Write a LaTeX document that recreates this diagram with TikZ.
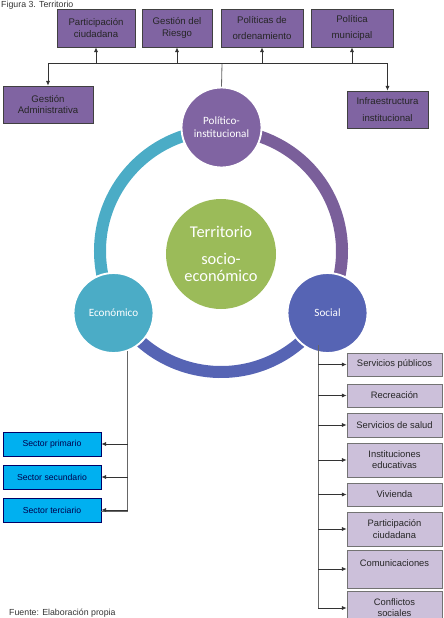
\documentclass[tikz,border=0pt]{standalone}
\usepackage{fontspec}
\setmainfont{Liberation Sans}
\newfontfamily\calibri{Carlito}
\usetikzlibrary{arrows.meta,shadows}
\definecolor{morado}{HTML}{8064A2}
\definecolor{turquesa}{HTML}{4BACC6}
\definecolor{azulsoc}{HTML}{5664B4}
\definecolor{verde}{HTML}{9BBB59}
\definecolor{cian}{HTML}{00B0F0}
\definecolor{lila}{HTML}{CCC0DA}
\tikzset{
  arr/.style={-{Latex[length=4pt,width=3.5pt]},draw=black!80,line width=0.7pt},
  lin/.style={draw=black!60,line width=0.7pt},
  topbox/.style={rectangle,draw=black!75,fill=morado,text=black!85,line width=0.6pt,
    align=center,inner sep=1pt,font=\fontsize{8.2}{9.6}\selectfont},
  secbox/.style={rectangle,draw=blue!40!black,fill=cian,text=blue!30!black,line width=0.6pt,
    align=center,inner sep=1pt,minimum width=2.94cm,minimum height=0.72cm,
    font=\fontsize{7.4}{9}\selectfont},
  socbox/.style={rectangle,draw=black!55,fill=lila,text=black!85,line width=0.6pt,
    align=center,inner sep=1pt,minimum width=2.85cm,
    drop shadow={shadow xshift=0.8pt,shadow yshift=-0.8pt,opacity=0.35},
    font=\fontsize{8}{9.6}\selectfont},
  dimension/.style={circle,draw=white,line width=1.6pt,minimum size=2.4cm,inner sep=0pt,
    text=white,align=center,font=\calibri\fontsize{9.5}{11}\selectfont},
  ring/.style={line width=0.36cm}
}
\begin{document}
\begin{tikzpicture}[x=0.03cm,y=-0.03cm]
  \useasboundingbox (0,0) rectangle (443,618);
  \clip (0,0) rectangle (443,618);

  % ciclo central
  \coordinate (rc) at (221,251);
  \draw[ring,turquesa] (rc) ++(90:3.63cm) arc[start angle=90,end angle=210,radius=3.63cm];
  \draw[ring,azulsoc] (rc) ++(210:3.63cm) arc[start angle=210,end angle=330,radius=3.63cm];
  \draw[ring,morado!95!black] (rc) ++(-30:3.63cm) arc[start angle=-30,end angle=90,radius=3.63cm];

  \node[circle,fill=verde,minimum size=3.3cm,inner sep=0pt,text=white,align=center,
    font=\calibri\fontsize{14}{14.5}\selectfont] (terr) at (221,254)
    {Territorio\\[8pt]socio-\\económico};
  \node[dimension,fill=morado] (pol) at (221.5,127.5) {Político-\\institucional};
  \node[dimension,fill=turquesa] (eco) at (113.5,313) {Económico};
  \node[dimension,fill=azulsoc] (soc) at (327.5,313) {Social};

  % politico-institucional
  \node[topbox,minimum width=2.34cm,minimum height=1.14cm] (part) at (96,28) {Participación\\ciudadana};
  \node[topbox,minimum width=2.1cm,minimum height=1.14cm] (ries) at (177,28) {Gestión del\\Riesgo};
  \node[topbox,minimum width=2.46cm,minimum height=1.14cm] (orde) at (262,28) {Políticas de\\[4.5pt]ordenamiento};
  \node[topbox,minimum width=2.46cm,minimum height=1.14cm] (muni) at (352,28) {Política\\[4.5pt]municipal};
  \node[topbox,minimum width=2.7cm,minimum height=1.11cm] (gadm) at (48,104.5) {Gestión\\Administrativa};
  \node[topbox,minimum width=2.43cm,minimum height=1.11cm] (infr) at (387.5,109.5) {Infraestructura\\[4.5pt]institucional};

  \coordinate (bus) at (222,63.5);
  \draw[lin] (pol.north) -- (bus);
  \draw[lin,black!80] (gadm.north |- bus) -- (infr.north |- bus);
  \draw[arr] (part.south |- bus) -- (part.south);
  \draw[arr] (ries.south |- bus) -- (ries.south);
  \draw[arr] (orde.south |- bus) -- (orde.south);
  \draw[arr] (muni.south |- bus) -- (muni.south);
  \draw[arr] (gadm.north |- bus) -- (gadm.north);
  \draw[arr] (infr.north |- bus) -- (infr.north);

  % economico
  \node[secbox] (prim) at (52,444) {Sector primario};
  \node[secbox] (secu) at (52,477) {Sector secundario};
  \node[secbox] (terc) at (52,510) {Sector terciario};
  \draw[lin] (eco.-70) |- (terc.east |- 0,511);
  \draw[arr] (eco.-70 |- prim.east) -- (prim.east);
  \draw[arr] (eco.-70 |- secu.east) -- (secu.east);
  \draw[arr] (eco.-70 |- terc.east) -- (terc.east);

  % social
  \node[socbox,minimum height=0.69cm] (s1) at (394.5,364.5) {Servicios públicos};
  \node[socbox,minimum height=0.69cm] (s2) at (394.5,395.5) {Recreación};
  \node[socbox,minimum height=0.72cm] (s3) at (394.5,425) {Servicios de salud};
  \node[socbox,minimum height=1.02cm] (s4) at (394.5,460) {Instituciones\\educativas};
  \node[socbox,minimum height=0.69cm] (s5) at (394.5,494.5) {Vivienda};
  \node[socbox,minimum height=1.02cm] (s6) at (394.5,529) {Participación\\ciudadana};
  \node[socbox,minimum height=1.14cm] (s7) at (394.5,569) {Comunicaciones\\\mbox{}};
  \node[socbox,minimum height=1.02cm] (s8) at (394.5,608) {Conflictos\\sociales};
  \coordinate (strunk) at (318,345);
  \draw[lin] (strunk) -- (strunk |- s8.west);
  \foreach \s in {s1,s2,s3,s4,s5,s6,s7,s8}
    \draw[arr] (strunk |- \s.west) -- (\s.west);

  % textos
  \node[anchor=base west,inner sep=0pt,font=\fontsize{7.5}{9}\selectfont,text=black!80] (tit) at (1,7.5) {Figura 3. Territorio};
  \node[anchor=base west,inner sep=0pt,font=\fontsize{7.5}{9}\selectfont,text=black!80] (fue) at (9,615) {Fuente: Elaboración propia};
\end{tikzpicture}
\end{document}
